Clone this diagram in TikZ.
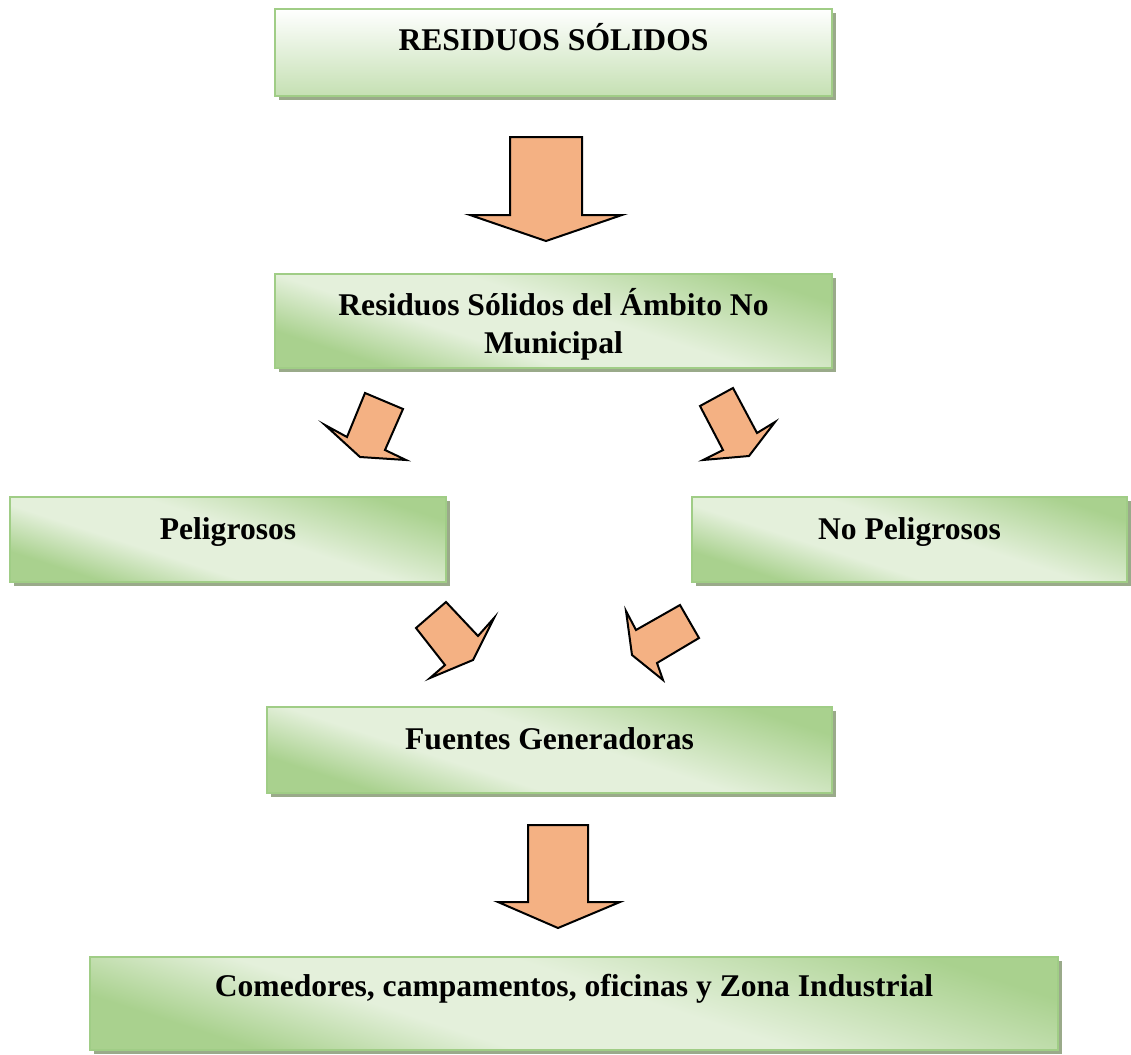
\documentclass[tikz,border=0pt]{standalone}
\usepackage{fontspec}
\setmainfont{Liberation Serif}
\usepackage{tikz}
\usetikzlibrary{shadows}
\usetikzlibrary{positioning}
\definecolor{gdark}{HTML}{A9D18E}
\definecolor{glight}{HTML}{E4F0DB}
\definecolor{gbottom}{HTML}{C5E0B3}
\definecolor{boxline}{HTML}{A0CD86}
\definecolor{boxshadow}{HTML}{9AAA8A}
\definecolor{arrowfill}{HTML}{F4B183}
\pgfdeclareverticalshading{greenBand}{100bp}{color(0bp)=(gdark); color(27bp)=(gdark); color(40bp)=(glight); color(54bp)=(glight); color(75bp)=(gdark); color(100bp)=(gdark)}

\begin{document}
\begin{tikzpicture}[x=0.5pt,y=-0.5pt]
			\tikzstyle{box}=[rectangle, draw=boxline, line width=1pt, inner sep=0pt,
				drop shadow={shadow xshift=2pt, shadow yshift=-2pt, fill=boxshadow, opacity=1},
				shading=greenBand, shading angle=-18]
			\tikzstyle{topbox}=[box, top color=white, bottom color=gbottom, shading angle=0]
			\tikzstyle{boxtext}=[anchor=base, align=center, inner sep=0pt, font=\fontsize{15.8}{19}\selectfont\bfseries]
			\tikzstyle{blockarrow}=[draw, fill=arrowfill, line width=1pt, line join=miter]
			\useasboundingbox (0,0) rectangle (1131,1055);

			\node[topbox, minimum width=278.5pt, minimum height=43.5pt] at (553.5, 52.5) (residuos) {};
			\node[boxtext] at ([yshift=-21pt]residuos.north) (residuosText) {RESIDUOS SÓLIDOS};

			\node[box, minimum width=278.5pt, minimum height=47pt] at (553.5, 321) (noMunicipal) {};
			\node[boxtext] at ([yshift=-40pt]noMunicipal.north) (noMunicipalText) {Residuos Sólidos del Ámbito No\\Municipal};

			\node[box, minimum width=218pt, minimum height=42.5pt] at (228, 539.5) (peligrosos) {};
			\node[boxtext] at ([yshift=-21.5pt]peligrosos.north) (peligrososText) {Peligrosos};

			\node[box, minimum width=217.5pt, minimum height=42.5pt] at (909.5, 539.5) (noPeligrosos) {};
			\node[boxtext] at ([yshift=-21.5pt]noPeligrosos.north) (noPeligrososText) {No Peligrosos};

			\node[box, minimum width=282.5pt, minimum height=43pt] at (549.5, 750) (fuentes) {};
			\node[boxtext] at ([yshift=-21.5pt]fuentes.north) (fuentesText) {Fuentes Generadoras};

			\node[box, minimum width=484pt, minimum height=46.5pt] at (574, 1003.5) (comedores) {};
			\node[boxtext] at ([yshift=-20pt]comedores.north) (comedoresText) {Comedores, campamentos, oficinas y Zona Industrial};

			\path[blockarrow] (510,137) -- (582,137) -- (582,215) -- (622,215) -- (546,241) -- (470,215) -- (510,215) -- cycle;
			\path[blockarrow] (365,393) -- (403,409) -- (385,450) -- (406,460) -- (360,457) -- (325,425) -- (347,437) -- cycle;
			\path[blockarrow] (700,406) -- (733,388) -- (757,433) -- (775,422) -- (749,456) -- (703,460) -- (723,450) -- cycle;
			\path[blockarrow] (416,628) -- (446,602) -- (478,636) -- (494,618) -- (473,660) -- (430,678) -- (445,665) -- cycle;
			\path[blockarrow] (636,630) -- (680,605) -- (699,638) -- (657,663) -- (663,680) -- (632,655) -- (626,611) -- cycle;
			\path[blockarrow] (528,825) -- (588,825) -- (588,902) -- (620,902) -- (558,928) -- (498,902) -- (528,902) -- cycle;
		\end{tikzpicture}
\end{document}
